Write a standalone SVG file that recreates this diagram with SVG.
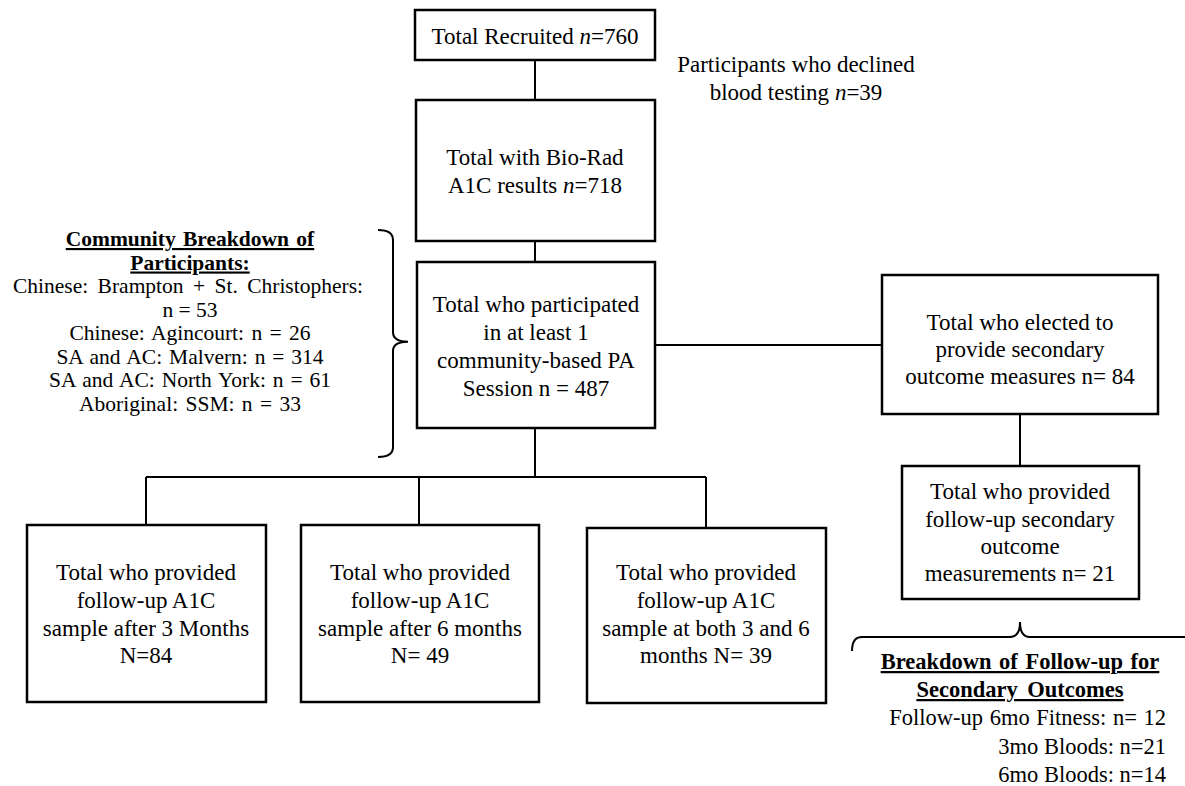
<svg xmlns="http://www.w3.org/2000/svg" width="1185" height="786" viewBox="0 0 1185 786">
<style>
.box{fill:#fff;stroke:#000;stroke-width:2.5}
.ln{fill:none;stroke:#000;stroke-width:2}
text{font-family:"Liberation Serif","Times New Roman",serif;fill:#000}
.t{font-size:23px;text-anchor:middle}
.s{font-size:22.5px;text-anchor:middle}
.c{font-size:21.5px;text-anchor:middle}
.b{font-weight:bold;text-decoration:underline}
.r{text-anchor:end}
.i{font-style:italic}
</style>
<rect width="1185" height="786" fill="#fff"/>
<g id="connectors">
<path class="ln" d="M535,60 V100"/>
<path class="ln" d="M535,241 V262"/>
<path class="ln" d="M655,345 H882"/>
<path class="ln" d="M1020,414 V466"/>
<path class="ln" d="M535,428 V477 M146,477 H706 M146,477 V525 M419,477 V525 M706,477 V528"/>
</g>
<g id="n1"><rect class="box" x="415" y="10" width="240" height="50"/>
<text class="t" x="535" y="44">Total Recruited <tspan class="i">n</tspan>=760</text></g>
<g id="declined"><text class="t" x="796" y="72">Participants who declined</text>
<text class="t" x="796" y="100">blood testing <tspan class="i">n</tspan>=39</text></g>
<g id="n2"><rect class="box" x="416" y="100" width="239" height="141"/>
<text class="t" x="535" y="165">Total with Bio-Rad</text>
<text class="t" x="535" y="193">A1C results <tspan class="i">n</tspan>=718</text></g>
<g id="n3"><rect class="box" x="417" y="262" width="238" height="166"/>
<text class="t" x="536" y="312">Total who participated</text>
<text class="t" x="536" y="340">in at least 1</text>
<text class="t" x="536" y="368">community-based PA</text>
<text class="t" x="536" y="396">Session n = 487</text></g>
<g id="community">
<path class="ln" d="M378,230 Q393,230 393,240 V332 Q393,341.7 408,341.7 Q393,341.7 393,351 V447 Q393,457 378,457"/>
<text class="c b" x="190" y="246" word-spacing="2">Community Breakdown of</text>
<text class="c b" x="190" y="269.5">Participants:</text>
<text class="c" x="188" y="293" word-spacing="4">Chinese: Brampton + St. Christophers:</text>
<text class="c" x="190" y="316.5">n = 53</text>
<text class="c" x="190" y="340" word-spacing="2">Chinese: Agincourt: n = 26</text>
<text class="c" x="190" y="363.5" word-spacing="1.5">SA and AC: Malvern: n = 314</text>
<text class="c" x="190" y="387" word-spacing="1.5">SA and AC: North York: n = 61</text>
<text class="c" x="190" y="410.5" word-spacing="2">Aboriginal: SSM: n = 33</text></g>
<g id="n4"><rect class="box" x="882" y="275" width="276" height="139"/>
<text class="t" x="1020" y="330">Total who elected to</text>
<text class="t" x="1020" y="357">provide secondary</text>
<text class="t" x="1020" y="384">outcome measures n= 84</text></g>
<g id="n5"><rect class="box" x="902" y="466" width="237" height="133"/>
<text class="t" x="1020" y="499">Total who provided</text>
<text class="t" x="1020" y="527">follow-up secondary</text>
<text class="t" x="1020" y="554">outcome</text>
<text class="t" x="1020" y="581">measurements n= 21</text></g>
<g id="n6"><rect class="box" x="27" y="525" width="239" height="177"/>
<text class="t" x="146" y="580">Total who provided</text>
<text class="t" x="146" y="608">follow-up A1C</text>
<text class="t" x="146" y="636">sample after 3 Months</text>
<text class="t" x="146" y="663">N=84</text></g>
<g id="n7"><rect class="box" x="301" y="525" width="238" height="177"/>
<text class="t" x="420" y="580">Total who provided</text>
<text class="t" x="420" y="608">follow-up A1C</text>
<text class="t" x="420" y="636">sample after 6 months</text>
<text class="t" x="420" y="663">N= 49</text></g>
<g id="n8"><rect class="box" x="587" y="528" width="239" height="175"/>
<text class="t" x="706" y="580">Total who provided</text>
<text class="t" x="706" y="608">follow-up A1C</text>
<text class="t" x="706" y="636">sample at both 3 and 6</text>
<text class="t" x="706" y="663">months N= 39</text></g>
<g id="secondary">
<path class="ln" d="M852,651 Q852,637 862,637 H1010 Q1020,637 1020,622 Q1020,637 1030,637 H1190"/>
<text class="s b" x="1020" y="669" word-spacing="2">Breakdown of Follow-up for</text>
<text class="s b" x="1020" y="697" word-spacing="4">Secondary Outcomes</text>
<text class="s r" x="1166" y="725" word-spacing="1">Follow-up 6mo Fitness: n= 12</text>
<text class="s r" x="1166" y="754">3mo Bloods: n=21</text>
<text class="s r" x="1166" y="782">6mo Bloods: n=14</text></g>
</svg>
